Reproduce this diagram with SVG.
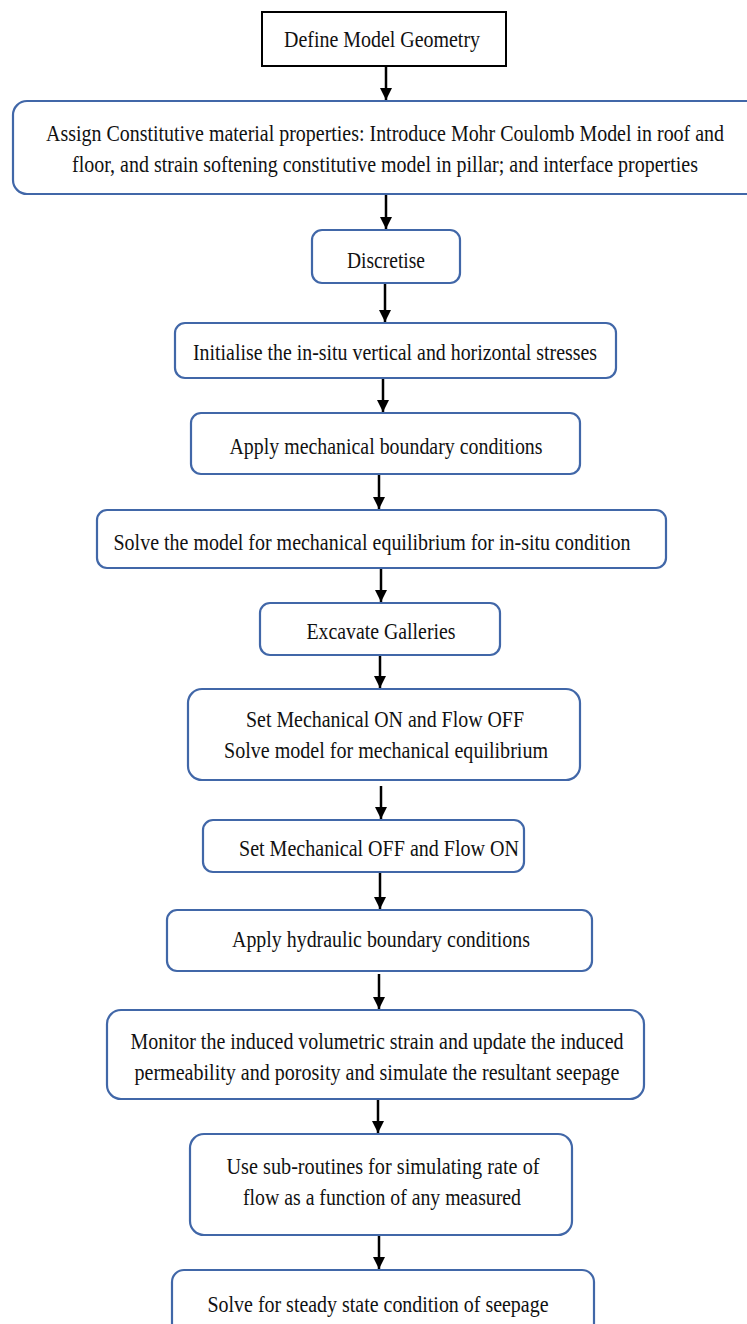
<svg xmlns="http://www.w3.org/2000/svg" width="747" height="1324" viewBox="0 0 747 1324">
<defs>
<style>
.box{fill:#fff;stroke:#4167a8;stroke-width:2.2}
.box0{fill:#fff;stroke:#000;stroke-width:2}
.t{font-family:"Liberation Serif","Times New Roman",serif;font-size:24px;fill:#111;text-anchor:middle}
.c{stroke:#000;stroke-width:2.5;fill:none;marker-end:url(#ah)}
</style>
<marker id="ah" markerUnits="userSpaceOnUse" markerWidth="12" markerHeight="12" refX="12" refY="6" orient="auto">
<path d="M0,0 L12,6 L0,12 z" fill="#000"/>
</marker>
</defs>
<rect width="747" height="1324" fill="#fff"/>
<g id="connectors">
<line class="c" x1="386" y1="66" x2="386" y2="100"/>
<line class="c" x1="386" y1="194" x2="386" y2="229"/>
<line class="c" x1="385" y1="283" x2="385" y2="322"/>
<line class="c" x1="383" y1="378" x2="383" y2="412"/>
<line class="c" x1="379" y1="474" x2="379" y2="509"/>
<line class="c" x1="381" y1="568" x2="381" y2="602"/>
<line class="c" x1="380" y1="655" x2="380" y2="688"/>
<line class="c" x1="381" y1="786" x2="381" y2="819"/>
<line class="c" x1="380" y1="872" x2="380" y2="909"/>
<line class="c" x1="379" y1="974" x2="379" y2="1009"/>
<line class="c" x1="378" y1="1099" x2="378" y2="1133"/>
<line class="c" x1="379" y1="1236" x2="379" y2="1269"/>
</g>
<g id="n1"><rect class="box0" x="262" y="12" width="244" height="54"/>
<text class="t" x="382" y="47" textLength="196" lengthAdjust="spacingAndGlyphs">Define Model Geometry</text></g>
<g id="n2"><rect class="box" x="13" y="101" width="760" height="93" rx="14"/>
<text class="t" x="385" y="141" textLength="678" lengthAdjust="spacingAndGlyphs">Assign Constitutive material properties: Introduce Mohr Coulomb Model in roof and</text>
<text class="t" x="385" y="172" textLength="626" lengthAdjust="spacingAndGlyphs">floor, and strain softening constitutive model in pillar; and interface properties</text></g>
<g id="n3"><rect class="box" x="312" y="230" width="148" height="53" rx="10"/>
<text class="t" x="386" y="267.5" textLength="78" lengthAdjust="spacingAndGlyphs">Discretise</text></g>
<g id="n4"><rect class="box" x="175" y="323" width="441" height="55" rx="10"/>
<text class="t" x="395" y="359.5" textLength="404" lengthAdjust="spacingAndGlyphs">Initialise the in-situ vertical and horizontal stresses</text></g>
<g id="n5"><rect class="box" x="191" y="413" width="389" height="61" rx="10"/>
<text class="t" x="386" y="453.5" textLength="313" lengthAdjust="spacingAndGlyphs">Apply mechanical boundary conditions</text></g>
<g id="n6"><rect class="box" x="97" y="510" width="569" height="58" rx="10"/>
<text class="t" x="372" y="549.5" textLength="517" lengthAdjust="spacingAndGlyphs">Solve the model for mechanical equilibrium for in-situ condition</text></g>
<g id="n7"><rect class="box" x="260" y="603" width="240" height="52" rx="10"/>
<text class="t" x="381" y="638.5" textLength="149" lengthAdjust="spacingAndGlyphs">Excavate Galleries</text></g>
<g id="n8"><rect class="box" x="188" y="689" width="392" height="91" rx="14"/>
<text class="t" x="385" y="726.5" textLength="278" lengthAdjust="spacingAndGlyphs">Set Mechanical ON and Flow OFF</text>
<text class="t" x="386" y="757.5" textLength="324" lengthAdjust="spacingAndGlyphs">Solve model for mechanical equilibrium</text></g>
<g id="n9"><rect class="box" x="203" y="820" width="321" height="52" rx="10"/>
<text class="t" x="379" y="855.5" textLength="280" lengthAdjust="spacingAndGlyphs">Set Mechanical OFF and Flow ON</text></g>
<g id="n10"><rect class="box" x="167" y="910" width="425" height="61" rx="10"/>
<text class="t" x="381" y="946.5" textLength="298" lengthAdjust="spacingAndGlyphs">Apply hydraulic boundary conditions</text></g>
<g id="n11"><rect class="box" x="107" y="1010" width="537" height="89" rx="14"/>
<text class="t" x="377" y="1048.5" textLength="493" lengthAdjust="spacingAndGlyphs">Monitor the induced volumetric strain and update the induced</text>
<text class="t" x="377" y="1079.5" textLength="485" lengthAdjust="spacingAndGlyphs">permeability and porosity and simulate the resultant seepage</text></g>
<g id="n12"><rect class="box" x="190" y="1134" width="382" height="101" rx="14"/>
<text class="t" x="383" y="1173.5" textLength="313" lengthAdjust="spacingAndGlyphs">Use sub-routines for simulating rate of</text>
<text class="t" x="382" y="1204.5" textLength="278" lengthAdjust="spacingAndGlyphs">flow as a function of any measured</text></g>
<g id="n13"><rect class="box" x="172" y="1270" width="422" height="80" rx="12"/>
<text class="t" x="378" y="1311.5" textLength="341" lengthAdjust="spacingAndGlyphs">Solve for steady state condition of seepage</text></g>
</svg>
